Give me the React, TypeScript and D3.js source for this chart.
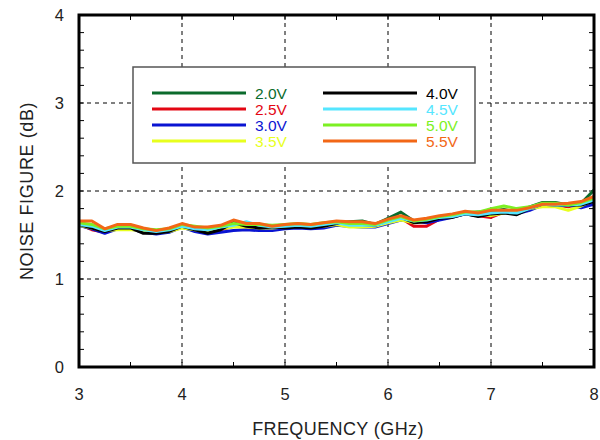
import React from 'react';
import * as d3 from 'd3';

// frequency points (GHz)
const freqs = [
  3.0, 3.125, 3.25, 3.375, 3.5, 3.625, 3.75, 3.875, 4.0, 4.125, 4.25, 4.375, 4.5, 4.625,
  4.75, 4.875, 5.0, 5.125, 5.25, 5.375, 5.5, 5.625, 5.75, 5.875, 6.0, 6.125, 6.25, 6.375,
  6.5, 6.625, 6.75, 6.875, 7.0, 7.125, 7.25, 7.375, 7.5, 7.625, 7.75, 7.875, 8.0,
];

// noise figure (dB) per supply voltage
const nf20 = [1.63,1.60,1.55,1.60,1.60,1.56,1.55,1.56,1.61,1.57,1.55,1.57,1.61,1.61,1.60,1.59,1.60,1.61,1.60,1.62,1.64,1.65,1.66,1.62,1.69,1.76,1.66,1.67,1.71,1.72,1.75,1.76,1.77,1.79,1.76,1.82,1.87,1.87,1.84,1.86,2.01];
const nf25 = [1.62,1.56,1.53,1.58,1.58,1.54,1.53,1.55,1.61,1.56,1.53,1.56,1.60,1.59,1.58,1.58,1.59,1.60,1.59,1.61,1.63,1.63,1.62,1.61,1.65,1.69,1.60,1.60,1.68,1.71,1.74,1.72,1.70,1.76,1.75,1.80,1.85,1.84,1.82,1.86,1.90];
const nf30 = [1.61,1.57,1.52,1.57,1.57,1.53,1.51,1.53,1.59,1.54,1.51,1.53,1.55,1.56,1.55,1.55,1.57,1.58,1.57,1.58,1.61,1.60,1.59,1.59,1.63,1.67,1.66,1.64,1.67,1.70,1.74,1.72,1.73,1.76,1.74,1.78,1.84,1.83,1.84,1.81,1.85];
const nf35 = [1.61,1.58,1.55,1.56,1.56,1.55,1.53,1.54,1.58,1.56,1.54,1.57,1.59,1.59,1.58,1.58,1.59,1.60,1.59,1.60,1.62,1.59,1.59,1.60,1.64,1.67,1.64,1.66,1.70,1.72,1.76,1.74,1.72,1.75,1.77,1.80,1.82,1.82,1.78,1.83,1.90];
const nf40 = [1.62,1.58,1.54,1.58,1.58,1.52,1.52,1.54,1.60,1.56,1.52,1.56,1.64,1.60,1.58,1.59,1.58,1.59,1.58,1.60,1.63,1.63,1.62,1.61,1.66,1.70,1.64,1.65,1.69,1.70,1.74,1.71,1.74,1.75,1.73,1.80,1.85,1.84,1.84,1.84,1.88];
const nf45 = [1.62,1.60,1.55,1.59,1.59,1.56,1.54,1.56,1.60,1.57,1.56,1.59,1.61,1.65,1.61,1.59,1.60,1.61,1.60,1.62,1.64,1.61,1.61,1.61,1.65,1.69,1.66,1.67,1.70,1.71,1.74,1.73,1.75,1.76,1.75,1.80,1.85,1.84,1.84,1.85,1.90];
const nf50 = [1.64,1.62,1.57,1.60,1.60,1.57,1.56,1.57,1.62,1.60,1.58,1.60,1.63,1.62,1.62,1.61,1.62,1.63,1.62,1.64,1.65,1.63,1.63,1.62,1.67,1.71,1.66,1.68,1.71,1.73,1.76,1.76,1.80,1.83,1.80,1.82,1.86,1.86,1.84,1.87,1.92];
const nf55 = [1.66,1.66,1.57,1.62,1.62,1.58,1.55,1.58,1.63,1.59,1.59,1.61,1.67,1.63,1.63,1.60,1.62,1.63,1.62,1.64,1.66,1.65,1.65,1.63,1.68,1.72,1.67,1.69,1.72,1.74,1.77,1.75,1.78,1.78,1.78,1.81,1.85,1.85,1.86,1.88,1.94];

const seriesLabels = ['2.0V', '2.5V', '3.0V', '3.5V', '4.0V', '4.5V', '5.0V', '5.5V'];
const seriesValues = [nf20, nf25, nf30, nf35, nf40, nf45, nf50, nf55];
const seriesColors = ['#0b6b2c', '#e30613', '#0a14d2', '#e8ff1e', '#000000', '#55e6ff', '#7cf023', '#f26716'];

const xTicks = [3, 4, 5, 6, 7, 8];
const yTicks = [0, 1, 2, 3, 4];

const FONT = '"Liberation Sans", Arial, Helvetica, sans-serif';

export default function App() {
  const left = 79, right = 594, top = 15, bottom = 367;
  const x = d3.scaleLinear().domain([3, 8]).range([left, right]);
  const y = d3.scaleLinear().domain([0, 4]).range([bottom, top]);

  const line = d3.line<number>()
    .x((_, i) => x(freqs[i]))
    .y(d => y(d));

  const xMinor = d3.range(3, 8.001, 0.5);
  const yMinor = d3.range(0, 4.001, 0.2);

  // legend layout
  const legX = 133, legY = 67, legW = 342, legH = 96;
  const colX = [152, 323];
  const rowY = [93, 109, 125, 141];

  return (
    <div style={{ position: 'absolute', left: 0, top: 0 }}>
      <svg width={600} height={440} style={{ display: 'block', background: '#fff' }}>
        {/* grid */}
        {xTicks.slice(1, -1).map(t => (
          <line key={'gx' + t} x1={x(t)} x2={x(t)} y1={top} y2={bottom}
            stroke="#000" strokeWidth={1} strokeDasharray="4,4" />
        ))}
        {yTicks.slice(1, -1).map(t => (
          <line key={'gy' + t} x1={left} x2={right} y1={y(t)} y2={y(t)}
            stroke="#000" strokeWidth={1} strokeDasharray="4,4" />
        ))}

        {/* minor ticks */}
        {xMinor.map(t => (
          <g key={'mx' + t}>
            <line x1={x(t)} x2={x(t)} y1={bottom} y2={bottom - 5} stroke="#000" strokeWidth={1} />
            <line x1={x(t)} x2={x(t)} y1={top} y2={top + 5} stroke="#000" strokeWidth={1} />
          </g>
        ))}
        {yMinor.map(t => (
          <g key={'my' + t}>
            <line x1={left} x2={left + 5} y1={y(t)} y2={y(t)} stroke="#000" strokeWidth={1} />
            <line x1={right} x2={right - 5} y1={y(t)} y2={y(t)} stroke="#000" strokeWidth={1} />
          </g>
        ))}

        {/* series */}
        <defs>
          <clipPath id="plotClip">
            <rect x={left} y={top} width={right - left} height={bottom - top} />
          </clipPath>
        </defs>
        <g clipPath="url(#plotClip)">
          {seriesValues.map((vals, i) => (
            <path key={seriesLabels[i]} d={line(vals) || ''} fill="none"
              stroke={seriesColors[i]} strokeWidth={3} strokeLinejoin="round" />
          ))}
        </g>

        {/* legend */}
        <rect x={legX} y={legY} width={legW} height={legH} fill="#fff" stroke="#555" strokeWidth={1.5} />
        {seriesLabels.map((lab, i) => {
          const c = Math.floor(i / 4), r = i % 4;
          return (
            <g key={'leg' + lab}>
              <line x1={colX[c]} x2={colX[c] + 94} y1={rowY[r]} y2={rowY[r]}
                stroke={seriesColors[i]} strokeWidth={3} />
              <text x={colX[c] + 103} y={rowY[r] + 5.5} fontFamily={FONT} fontSize={15.5}
                fill={seriesColors[i]}>{lab}</text>
            </g>
          );
        })}

        {/* frame */}
        <rect x={left} y={top} width={right - left} height={bottom - top}
          fill="none" stroke="#000" strokeWidth={3} />

        {/* tick labels */}
        {xTicks.map(t => (
          <text key={'tx' + t} x={x(t)} y={bottom + 33} textAnchor="middle"
            fontFamily={FONT} fontSize={16.5} fill="#222">{t}</text>
        ))}
        {yTicks.map(t => (
          <text key={'ty' + t} x={left - 15} y={y(t) + 6} textAnchor="end"
            fontFamily={FONT} fontSize={16.5} fill="#222">{t}</text>
        ))}

        {/* axis titles */}
        <text x={338} y={435} textAnchor="middle" fontFamily={FONT}
          fontSize={18} letterSpacing={0.4} fill="#222">FREQUENCY (GHz)</text>
        <text transform={`translate(33, 191) rotate(-90)`} textAnchor="middle"
          fontFamily={FONT} fontSize={18} letterSpacing={0.6} fill="#222">NOISE FIGURE (dB)</text>
      </svg>
    </div>
  );
}
